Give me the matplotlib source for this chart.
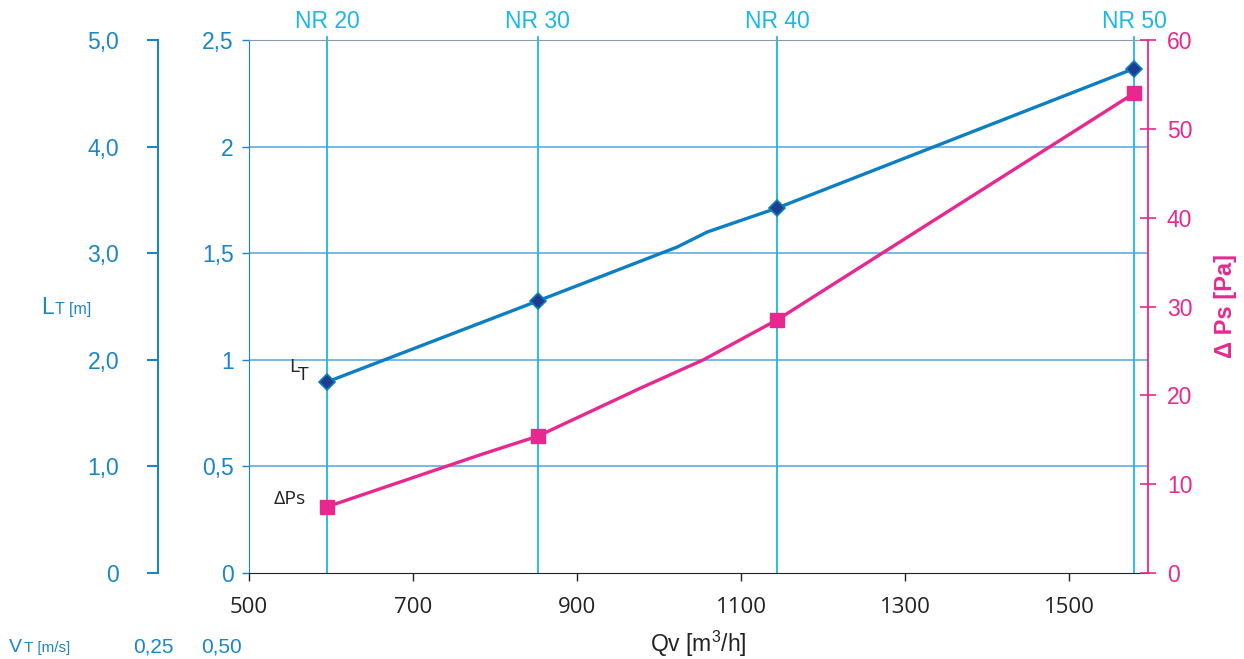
import matplotlib
matplotlib.use('Agg')
import matplotlib.pyplot as plt
from matplotlib.ticker import FixedLocator, FixedFormatter

plt.rcParams['font.family'] = ['Liberation Sans', 'DejaVu Sans']
plt.rcParams['mathtext.default'] = 'regular'

# Datos
qv_lt = [595, 785, 852, 1022, 1059, 1144, 1579]
lt = [0.896, 1.177, 1.276, 1.529, 1.600, 1.712, 2.366]
qv_lt_pts = [595, 852, 1144, 1579]
lt_pts = [0.896, 1.276, 1.712, 2.366]

qv_dp = [595, 785, 852, 977, 1054, 1144, 1579]
dp = [7.45, 13.4, 15.4, 20.8, 24.0, 28.5, 54.0]
qv_dp_pts = [595, 852, 1144, 1579]
dp_pts = [7.45, 15.4, 28.5, 54.0]

nr_qv = [595, 852, 1144, 1579]
nr_labels = ['NR 20', 'NR 30', 'NR 40', 'NR 50']

x_ticks = [500, 700, 900, 1100, 1300, 1500]
lt_ticks = [0, 0.5, 1, 1.5, 2, 2.5]
lt_labels = ['0', '0,5', '1', '1,5', '2', '2,5']
lt2_ticks = [0, 1, 2, 3, 4, 5]
lt2_labels = ['0', '1,0', '2,0', '3,0', '4,0', '5,0']
dp_ticks = [0, 10, 20, 30, 40, 50, 60]
vt_labels = ['0,25', '0,50']

AZUL = '#1a86c8'
AZUL_LINEA = '#0b7fc4'
NAVY = '#1f3d8f'
ROSA = '#e8288f'
CIAN = '#19b7ea'
GRID = '#6cb3e2'

W, H = 1244, 659
fig = plt.figure(figsize=(W / 100, H / 100), dpi=100)
ax = fig.add_axes([249 / W, 1 - 573 / H, (1148 - 249) / W, (573 - 40) / H])

ax.set_xlim(500, 1596)
ax.set_ylim(0, 2.5)

# rejilla horizontal
for v in lt_ticks[1:-1]:
	ax.axhline(v, color=GRID, lw=1.3, zorder=1)

# lineas NR
for q, lab in zip(nr_qv, nr_labels):
	ax.axvline(q, ymin=0, ymax=1.006, color=CIAN, lw=1.3, zorder=1, clip_on=False)
	ax.text(q, 1.014, lab, transform=ax.get_xaxis_transform(), ha='center', va='bottom',
		color=CIAN, fontsize=16.5)

ax.plot(qv_lt, lt, color=AZUL_LINEA, lw=2.4, zorder=3, solid_joinstyle='round')
ax.plot(qv_lt_pts, lt_pts, ls='none', marker='D', ms=8.5, mfc=NAVY, mec=AZUL_LINEA, mew=1.2, zorder=4)

ax.spines['top'].set_color('#8a9bb0')
ax.spines['bottom'].set_color('#222222')
ax.spines['left'].set_color(AZUL)
ax.spines['right'].set_visible(False)

ax.xaxis.set_major_locator(FixedLocator(x_ticks))
ax.tick_params(axis='x', direction='out', length=6, width=1, color='#222222',
	labelsize=16, labelcolor='#222222', pad=11)
for t in ax.get_xticklabels():
	t.set_family('Open Sans')
ax.yaxis.set_major_locator(FixedLocator(lt_ticks))
ax.yaxis.set_major_formatter(FixedFormatter(lt_labels))
ax.tick_params(axis='y', direction='out', length=5, width=1, color=AZUL,
	labelsize=16.5, labelcolor=AZUL, pad=6)
ax.set_xlabel('Qv [m$^3$/h]', fontsize=16.5, color='#222222', labelpad=8)

# eje rosa
ax2 = ax.twinx()
ax2.set_ylim(0, 60)
ax2.plot(qv_dp, dp, color=ROSA, lw=2.4, zorder=3, solid_joinstyle='round')
ax2.plot(qv_dp_pts, dp_pts, ls='none', marker='s', ms=10.5, mfc=ROSA, mec=ROSA, zorder=4)
for s in ['top', 'left', 'bottom']:
	ax2.spines[s].set_visible(False)
ax2.spines['right'].set_color(ROSA)
ax2.spines['right'].set_linewidth(1.3)
ax2.yaxis.set_major_locator(FixedLocator(dp_ticks))
ax2.tick_params(axis='y', direction='inout', length=11, width=1.2, color=ROSA,
	labelsize=16.5, labelcolor=ROSA, pad=8)
ax2.set_ylabel('Δ Ps [Pa]', fontsize=17, color=ROSA, fontweight='bold', labelpad=16)

# eje LT exterior
ax3 = ax.twinx()
ax3.set_ylim(0, 5)
for s in ['top', 'right', 'bottom']:
	ax3.spines[s].set_visible(False)
ax3.spines['left'].set_visible(True)
ax3.spines['left'].set_position(('axes', (158 - 249) / (1148 - 249)))
ax3.spines['left'].set_color(AZUL)
ax3.spines['left'].set_linewidth(1.5)
ax3.yaxis.set_ticks_position('left')
ax3.yaxis.set_major_locator(FixedLocator(lt2_ticks))
ax3.yaxis.set_major_formatter(FixedFormatter(lt2_labels))
ax3.tick_params(axis='y', direction='out', length=8, width=1.5, color=AZUL,
	labelsize=16.5, labelcolor=AZUL, pad=20)

# textos sueltos
def ftxt(x, y, s, **kw):
	fig.text(x / W, 1 - y / H, s, **kw)

ftxt(41, 308, 'L', fontsize=16.5, color=AZUL, va='center', ha='left')
ftxt(55, 310, 'T [m]', fontsize=11.5, color=AZUL, va='center', ha='left')
ftxt(9, 647, 'V', fontsize=14, color=AZUL, va='center', ha='left')
ftxt(24, 648, 'T [m/s]', fontsize=11, color=AZUL, va='center', ha='left')
for xp, lab in zip([153, 222], vt_labels):
	ftxt(xp, 647, lab, fontsize=15, color=AZUL, va='center', ha='center')

ftxt(289, 367, 'L', fontsize=14, color='#222222', va='center', ha='left', family='Open Sans')
ftxt(298, 375, 'T', fontsize=14, color='#222222', va='center', ha='left', family='Open Sans')
ftxt(274, 499, 'ΔPs', fontsize=14, color='#222222', va='center', ha='left', family='Open Sans')

fig.savefig('out.png', dpi=100)
